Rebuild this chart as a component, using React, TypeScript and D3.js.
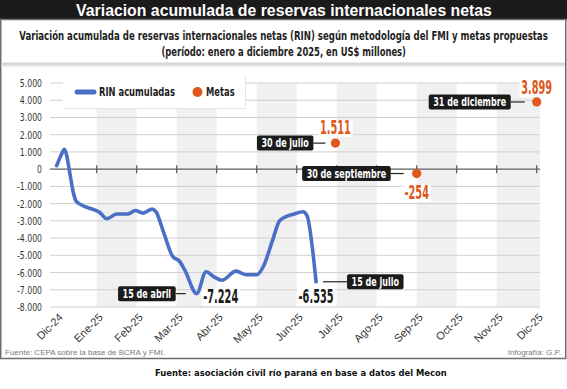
import React, { useEffect, useRef } from "react";
import * as d3 from "d3";

const TITLE = "Variacion acumulada de reservas internacionales netas";
const SUBTITLE_1 =
  "Variación acumulada de reservas internacionales netas (RIN) según metodología del FMI y metas propuestas";
const SUBTITLE_2 = "(período: enero a diciembre 2025, en US$ millones)";
const SOURCE = "Fuente: CEPA sobre la base de BCRA y FMI.";
const CREDIT = "Infografía: G.P.";
const FOOTER = "Fuente: asociación civil río paraná en base a datos del Mecon";
const LEGEND_RIN = "RIN acumuladas";
const LEGEND_META = "Metas";

const monthLabels = [
  "Dic-24", "Ene-25", "Feb-25", "Mar-25", "Abr-25", "May-25", "Jun-25",
  "Jul-25", "Ago-25", "Sep-25", "Oct-25", "Nov-25", "Dic-25",
];

const yTicks = [5000, 4000, 3000, 2000, 1000, 0, -1000, -2000, -3000, -4000, -5000, -6000, -7000, -8000];

const rinDates = [
  "2024-12-31", "2025-01-03", "2025-01-06", "2025-01-08", "2025-01-10", "2025-01-13",
  "2025-01-15", "2025-01-18", "2025-01-24", "2025-02-02", "2025-02-07", "2025-02-14",
  "2025-02-22", "2025-02-27", "2025-03-05", "2025-03-12", "2025-03-15", "2025-03-21",
  "2025-03-28", "2025-04-02", "2025-04-06", "2025-04-15", "2025-04-22", "2025-04-28",
  "2025-05-04", "2025-05-15", "2025-05-23", "2025-05-31", "2025-06-05", "2025-06-12",
  "2025-06-17", "2025-06-22", "2025-06-28", "2025-07-05", "2025-07-08", "2025-07-15",
];
const rinValues = [
  200, 750, 1150, 700, -150, -1400,
  -1850, -2030, -2230, -2500, -2880, -2600,
  -2600, -2400, -2550, -2320, -2480, -3700,
  -5080, -5330, -5850, -7224, -5950, -6250,
  -6450, -5920, -6130, -6130, -5650, -4100,
  -3020, -2760, -2600, -2470, -2700, -6535,
];

const metaDates = ["2025-07-30", "2025-09-30", "2025-12-31"];
const metaValues = [1511, -254, 3899];

const calloutSeries = ["rin", "rin", "meta", "meta", "meta"];
const calloutDates = ["2025-04-15", "2025-07-15", "2025-07-30", "2025-09-30", "2025-12-31"];
const calloutLabels = ["15 de abril", "15 de julio", "30 de julio", "30 de septiembre", "31 de diciembre"];

// layout only (offsets in px from the marked point)
const calloutLayout = [
  { side: -1, gap: 11, len: 10, valDx: 24, valDy: 9.5 },
  { side: 1, gap: 7, len: 24, valDx: 0, valDy: 21 },
  { side: -1, gap: 10, len: 12, valDx: 0, valDy: -9 },
  { side: -1, gap: 13, len: 13, valDx: 0, valDy: 25.5 },
  { side: -1, gap: 12, len: 14, valDx: 0, valDy: -8 },
];

const W = 567;
const H = 389;
const NARROW = "'Liberation Sans Narrow','Arial Narrow','DejaVu Sans Condensed',sans-serif";
const SANS = "'Liberation Sans',Arial,sans-serif";
const BLUE = "#4a6fc6";
const ORANGE = "#e0571b";
const DARK = "#1c1a1b";

function monthPos(s: string): number {
  const [yy, mm, dd] = s.split("-").map(Number);
  const dim = new Date(Date.UTC(yy, mm, 0)).getUTCDate();
  return (yy - 2025) * 12 + (mm - 1) + dd / dim;
}

const locale = d3.formatLocale({
  decimal: ",",
  thousands: ".",
  grouping: [3],
  currency: ["$", ""],
  minus: "-",
});
const fmt = locale.format(",d");

type Sel = d3.Selection<any, unknown, null, undefined>;

export default function App() {
  const ref = useRef<SVGSVGElement | null>(null);

  useEffect(() => {
    const svg = d3.select(ref.current) as Sel;
    svg.selectAll("*").remove();

    const measure = (txt: string, family: string, size: number, weight: string) => {
      const t = svg.append("text")
        .attr("font-family", family).attr("font-size", size).attr("font-weight", weight)
        .attr("visibility", "hidden").text(txt);
      const w = (t.node() as SVGTextElement).getComputedTextLength();
      t.remove();
      return w;
    };

    // horizontal compression factors so the available condensed font matches the reference widths
    const kBold = 76 / measure(LEGEND_RIN, NARROW, 12, "bold");
    const kReg = 25 / measure("-1.000", NARROW, 11, "normal");
    const kVal = 35 / measure("-7.224", NARROW, 19, "bold");

    const addText = (
      parent: Sel, str: string, x: number, y: number,
      o: { family?: string; size: number; weight?: string; anchor?: string; fill?: string; k?: number; width?: number }
    ) => {
      const fam = o.family || NARROW;
      const wt = o.weight || "normal";
      let k = o.k ?? 1;
      if (o.width) k = o.width / measure(str, fam, o.size, wt);
      const gg = parent.append("g").attr("transform", `translate(${x},${y}) scale(${k},1)`);
      const t = gg.append("text")
        .attr("x", 0).attr("y", 0)
        .attr("text-anchor", o.anchor || "start")
        .attr("fill", o.fill || "#1e1e1e")
        .attr("font-family", fam).attr("font-size", o.size).attr("font-weight", wt)
        .text(str);
      return { g: gg, t, k };
    };

    const plotL = 50;
    const plotR = 540;
    const x = d3.scaleLinear().domain([0, 12]).range([56.7, 536.7]);
    const y = d3.scaleLinear().domain([-8000, 5000]).range([307, 83]);

    svg.append("rect").attr("width", W).attr("height", H).attr("fill", "#fff");

    // title bar
    svg.append("rect").attr("x", 0).attr("y", 0).attr("width", W).attr("height", 19.5).attr("fill", DARK);
    addText(svg, TITLE, 284, 15.6, { family: SANS, size: 16.5, weight: "bold", anchor: "middle", fill: "#fff", width: 416 });

    // panel
    svg.append("rect")
      .attr("x", 0.75).attr("y", 19.5).attr("width", 565).attr("height", 339)
      .attr("fill", "#fff").attr("stroke", "#6e6e6e").attr("stroke-width", 1.5);

    addText(svg, SUBTITLE_1, 283.5, 40, { size: 12.5, weight: "bold", anchor: "middle", width: 529 });
    addText(svg, SUBTITLE_2, 283.7, 56, { size: 12.5, weight: "bold", anchor: "middle", width: 245 });

    // separator shadow
    svg.append("rect").attr("x", 1.5).attr("y", 62.5).attr("width", 563.5).attr("height", 2.5).attr("fill", "#d6d6d6");
    svg.append("rect").attr("x", 1.5).attr("y", 65).attr("width", 563.5).attr("height", 2).attr("fill", "#ececec");

    // bands
    const g = svg.append("g");
    d3.range(1, 12, 2).forEach((i) => {
      const x0 = x(i);
      const x1 = i + 1 >= 12 ? plotR : x(i + 1);
      g.append("rect")
        .attr("x", x0).attr("y", y(5000))
        .attr("width", x1 - x0).attr("height", y(-8000) - y(5000))
        .attr("fill", "#f0f0f0");
    });

    // gridlines
    yTicks.filter((t) => t !== 0).forEach((t) => {
      g.append("line")
        .attr("x1", plotL).attr("x2", plotR)
        .attr("y1", y(t)).attr("y2", y(t))
        .attr("stroke", "#cfcfcf").attr("stroke-width", 1);
    });

    // y labels
    yTicks.forEach((t) => {
      addText(g, fmt(t), 42, y(t) + 4, { size: 11, anchor: "end", fill: "#333", k: kReg });
    });

    // zero axis with ticks
    g.append("line")
      .attr("x1", plotL).attr("x2", plotR)
      .attr("y1", y(0)).attr("y2", y(0))
      .attr("stroke", "#5e5e5e").attr("stroke-width", 1.3);
    d3.range(1, 13).forEach((i) => {
      g.append("line")
        .attr("x1", x(i)).attr("x2", x(i))
        .attr("y1", y(0) - 4).attr("y2", y(0) + 4)
        .attr("stroke", "#5e5e5e").attr("stroke-width", 1.3);
    });

    // x labels
    monthLabels.forEach((lab, i) => {
      const lx = x(i) + 7;
      const ly = 318;
      g.append("text")
        .attr("transform", `translate(${lx},${ly}) rotate(-45)`)
        .attr("text-anchor", "end")
        .attr("fill", "#333")
        .attr("font-family", SANS).attr("font-size", 11)
        .text(lab);
    });

    // legend
    svg.append("rect").attr("x", 64).attr("y", 76).attr("width", 182).attr("height", 33).attr("fill", "#e6e6e6");
    svg.append("rect").attr("x", 63).attr("y", 75).attr("width", 182).attr("height", 33).attr("fill", "#fff");
    svg.append("line")
      .attr("x1", 77).attr("x2", 94).attr("y1", 92).attr("y2", 92)
      .attr("stroke", BLUE).attr("stroke-width", 5).attr("stroke-linecap", "round");
    addText(svg, LEGEND_RIN, 99, 96, { size: 12, weight: "bold", k: kBold });
    svg.append("circle").attr("cx", 197.5).attr("cy", 92).attr("r", 5).attr("fill", ORANGE);
    addText(svg, LEGEND_META, 206, 96, { size: 12, weight: "bold", k: kBold });

    // lookup values for callouts
    const lookup = (series: string, date: string) => {
      if (series === "rin") return rinValues[rinDates.indexOf(date)];
      return metaValues[metaDates.indexOf(date)];
    };

    // value labels (with white backgrounds)
    const valLayer = svg.append("g");
    calloutDates.forEach((date, k) => {
      const series = calloutSeries[k];
      const v = lookup(series, date);
      const lay = calloutLayout[k];
      const px = x(monthPos(date));
      const py = y(v);
      const res = addText(valLayer, fmt(v), px + lay.valDx, py + lay.valDy, {
        size: 19, weight: "bold", anchor: "middle",
        fill: series === "rin" ? "#1a1a1a" : ORANGE, k: kVal,
      });
      const bb = (res.t.node() as SVGTextElement).getBBox();
      res.g.insert("rect", "text")
        .attr("fill", "#fff")
        .attr("x", bb.x - 3).attr("y", bb.y + 3).attr("width", bb.width + 6).attr("height", bb.height - 5);
    });

    // RIN line
    const pts = rinDates.map((d, i) => [x(monthPos(d)), y(rinValues[i])] as [number, number]);
    const line = d3.line<[number, number]>().x((d) => d[0]).y((d) => d[1]).curve(d3.curveMonotoneX);
    svg.append("path")
      .attr("d", line(pts) || "")
      .attr("fill", "none")
      .attr("stroke", BLUE)
      .attr("stroke-width", 3.6)
      .attr("stroke-linecap", "round")
      .attr("stroke-linejoin", "round");

    // meta dots
    metaDates.forEach((d, i) => {
      svg.append("circle")
        .attr("cx", x(monthPos(d))).attr("cy", y(metaValues[i]))
        .attr("r", 4.6).attr("fill", ORANGE);
    });

    // callout boxes
    calloutDates.forEach((date, k) => {
      const series = calloutSeries[k];
      const v = lookup(series, date);
      const lay = calloutLayout[k];
      const px = x(monthPos(date));
      const py = y(v);
      const c0 = px + lay.side * lay.gap;
      const c1 = c0 + lay.side * lay.len;
      svg.append("line")
        .attr("x1", c0).attr("x2", c1).attr("y1", py).attr("y2", py)
        .attr("stroke", "#222").attr("stroke-width", 1.2);
      const tw = measure(calloutLabels[k], NARROW, 11.5, "bold") * kBold;
      const bw = tw + 9;
      const bx = lay.side > 0 ? c1 : c1 - bw;
      svg.append("rect")
        .attr("x", bx).attr("y", py - 7.5).attr("width", bw).attr("height", 15)
        .attr("fill", "#1b1b1b").attr("rx", 2).attr("ry", 2);
      addText(svg, calloutLabels[k], bx + 4.5, py + 4, { size: 11.5, weight: "bold", fill: "#fff", k: kBold });
    });

    // source texts
    svg.append("text")
      .attr("x", 5).attr("y", 354.5)
      .attr("fill", "#7a7a7a").attr("font-family", SANS).attr("font-size", 8)
      .text(SOURCE);
    svg.append("text")
      .attr("x", 561).attr("y", 354.5).attr("text-anchor", "end")
      .attr("fill", "#7a7a7a").attr("font-family", SANS).attr("font-size", 8)
      .text(CREDIT);

    addText(svg, FOOTER, 155, 376, { family: "'DejaVu Sans',sans-serif", size: 9.5, weight: "bold", fill: "#111", width: 292 });
  }, []);

  return (
    <svg
      ref={ref}
      width={W}
      height={H}
      style={{ position: "absolute", left: 0, top: 0, display: "block" }}
    />
  );
}
